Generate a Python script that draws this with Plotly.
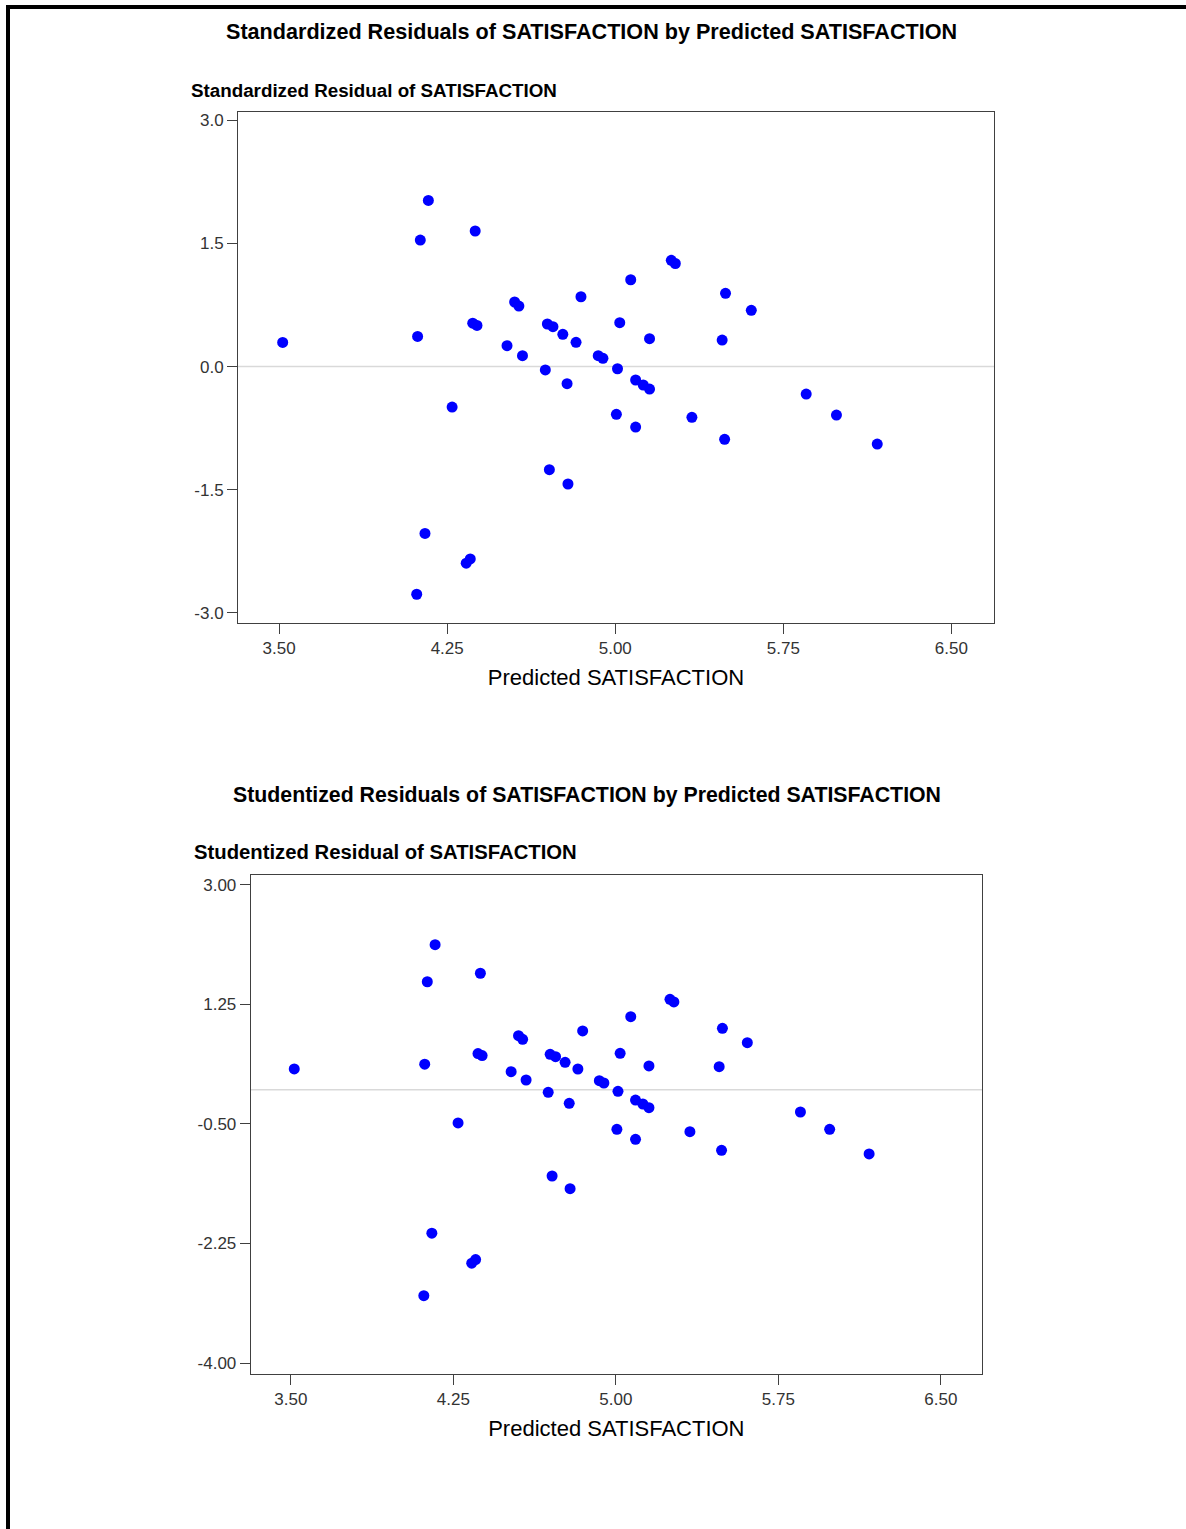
import plotly.graph_objects as go

# ---------------- data ----------------
predicted = [3.516, 4.166, 4.130, 4.375, 4.118, 4.272, 4.151, 4.114, 4.335, 4.353,
             4.364, 4.383, 4.517, 4.586, 4.551, 4.570, 4.688, 4.706, 4.789, 4.785,
             4.697, 4.722, 4.766, 4.825, 4.847, 4.924, 4.945, 5.010, 5.005, 5.020,
             5.069, 5.091, 5.125, 5.153, 5.091, 5.153, 5.250, 5.268, 5.342, 5.477,
             5.492, 5.488, 5.607, 5.852, 5.987, 6.169]

std_resid = [0.294, 2.024, 1.542, 1.652, 0.368, -0.493, -2.032, -2.773, -2.395, -2.342,
             0.529, 0.502, 0.255, 0.133, 0.787, 0.738, -0.041, -1.256, -1.430, -0.208,
             0.519, 0.486, 0.393, 0.296, 0.851, 0.133, 0.101, -0.026, -0.581, 0.535,
             1.058, -0.163, -0.224, -0.273, -0.736, 0.340, 1.295, 1.256, -0.618, 0.324,
             0.893, -0.886, 0.686, -0.334, -0.590, -0.943]

stud_resid = [0.304, 2.121, 1.579, 1.703, 0.374, -0.486, -2.099, -3.013, -2.538, -2.485,
              0.528, 0.500, 0.263, 0.142, 0.790, 0.737, -0.038, -1.262, -1.448, -0.199,
              0.518, 0.483, 0.401, 0.303, 0.859, 0.132, 0.098, -0.023, -0.579, 0.532,
              1.068, -0.151, -0.209, -0.263, -0.725, 0.347, 1.322, 1.283, -0.614, 0.336,
              0.898, -0.886, 0.687, -0.326, -0.579, -0.940]

x_tickvals = [3.5, 4.25, 5.0, 5.75, 6.5]
x_ticktext = ["3.50", "4.25", "5.00", "5.75", "6.50"]
y1_tickvals = [-3.0, -1.5, 0.0, 1.5, 3.0]
y1_ticktext = ["-3.0", "-1.5", "0.0", "1.5", "3.0"]
y2_tickvals = [-4.0, -2.25, -0.5, 1.25, 3.0]
y2_ticktext = ["-4.00", "-2.25", "-0.50", "1.25", "3.00"]

title1 = "Standardized Residuals of SATISFACTION by Predicted SATISFACTION"
title2 = "Studentized Residuals of SATISFACTION by Predicted SATISFACTION"
ytitle1 = "Standardized Residual of SATISFACTION"
ytitle2 = "Studentized Residual of SATISFACTION"
xtitle = "Predicted SATISFACTION"

# ---------------- layout helpers ----------------
W, H = 1186, 1529
def px_x(p):
    return p / W
def px_y(p):
    return 1 - p / H

FONT = "Liberation Sans, Arial, sans-serif"
marker = dict(color="#0000FF", size=11, line=dict(width=0))

fig = go.Figure()
fig.add_trace(go.Scatter(x=predicted, y=std_resid, mode="markers", marker=marker,
                         xaxis="x", yaxis="y", showlegend=False, hoverinfo="x+y"))
fig.add_trace(go.Scatter(x=predicted, y=stud_resid, mode="markers", marker=marker,
                         xaxis="x2", yaxis="y2", showlegend=False, hoverinfo="x+y"))

axis_common = dict(showline=True, linecolor="#404040", linewidth=1, mirror=True,
                   ticks="outside", ticklen=10, tickwidth=1, tickcolor="#404040",
                   showgrid=False, zeroline=False, fixedrange=True,
                   tickfont=dict(family=FONT, size=17, color="#333333"))

xtitle_font = dict(family=FONT, size=22, color="#000000")

fig.update_layout(
    width=W, height=H, autosize=False,
    margin=dict(l=0, r=0, t=0, b=0),
    paper_bgcolor="white", plot_bgcolor="white",
    font=dict(family=FONT, color="#000000"),
    xaxis=dict(domain=[px_x(238), px_x(994)], range=[3.3166, 6.690], anchor="y",
               tickvals=x_tickvals, ticktext=x_ticktext,
               title=dict(text=xtitle, font=xtitle_font, standoff=12),
               **axis_common),
    yaxis=dict(domain=[px_y(622.5), px_y(111.8)], range=[-3.117, 3.104], anchor="x",
               tickvals=y1_tickvals, ticktext=y1_ticktext, **axis_common),
    xaxis2=dict(domain=[px_x(250.7), px_x(982)], range=[3.315, 6.690], anchor="y2",
                tickvals=x_tickvals, ticktext=x_ticktext,
                title=dict(text=xtitle, font=xtitle_font, standoff=12),
                **axis_common),
    yaxis2=dict(domain=[px_y(1374), px_y(874.6)], range=[-4.158, 3.146], anchor="x2",
                tickvals=y2_tickvals, ticktext=y2_ticktext, **axis_common),
)

# zero reference lines
fig.add_shape(type="line", xref="x domain", yref="y", x0=0, x1=1, y0=0, y1=0,
              line=dict(color="#d9d9d9", width=1.5), layer="below")
fig.add_shape(type="line", xref="x2 domain", yref="y2", x0=0, x1=1, y0=0, y1=0,
              line=dict(color="#d9d9d9", width=1.5), layer="below")

# page border (left and top black bars)
fig.add_shape(type="rect", xref="paper", yref="paper", x0=px_x(6), x1=px_x(10),
              y0=0, y1=px_y(5), fillcolor="black", line=dict(width=0))
fig.add_shape(type="rect", xref="paper", yref="paper", x0=px_x(6), x1=1,
              y0=px_y(9), y1=px_y(5), fillcolor="black", line=dict(width=0))

# titles
fig.add_annotation(text="<b>" + title1 + "</b>", xref="paper", yref="paper",
                   x=px_x(591), y=px_y(32), xanchor="center", yanchor="middle",
                   showarrow=False, font=dict(family=FONT, size=21.6, color="#000000"))
fig.add_annotation(text="<b>" + ytitle1 + "</b>", xref="paper", yref="paper",
                   x=px_x(189), y=px_y(90), xanchor="left", yanchor="middle",
                   showarrow=False, font=dict(family=FONT, size=18.8, color="#000000"))
fig.add_annotation(text="<b>" + title2 + "</b>", xref="paper", yref="paper",
                   x=px_x(587), y=px_y(795), xanchor="center", yanchor="middle",
                   showarrow=False, font=dict(family=FONT, size=21.3, color="#000000"))
fig.add_annotation(text="<b>" + ytitle2 + "</b>", xref="paper", yref="paper",
                   x=px_x(192), y=px_y(852), xanchor="left", yanchor="middle",
                   showarrow=False, font=dict(family=FONT, size=20.3, color="#000000"))

fig.write_html("out.html")
